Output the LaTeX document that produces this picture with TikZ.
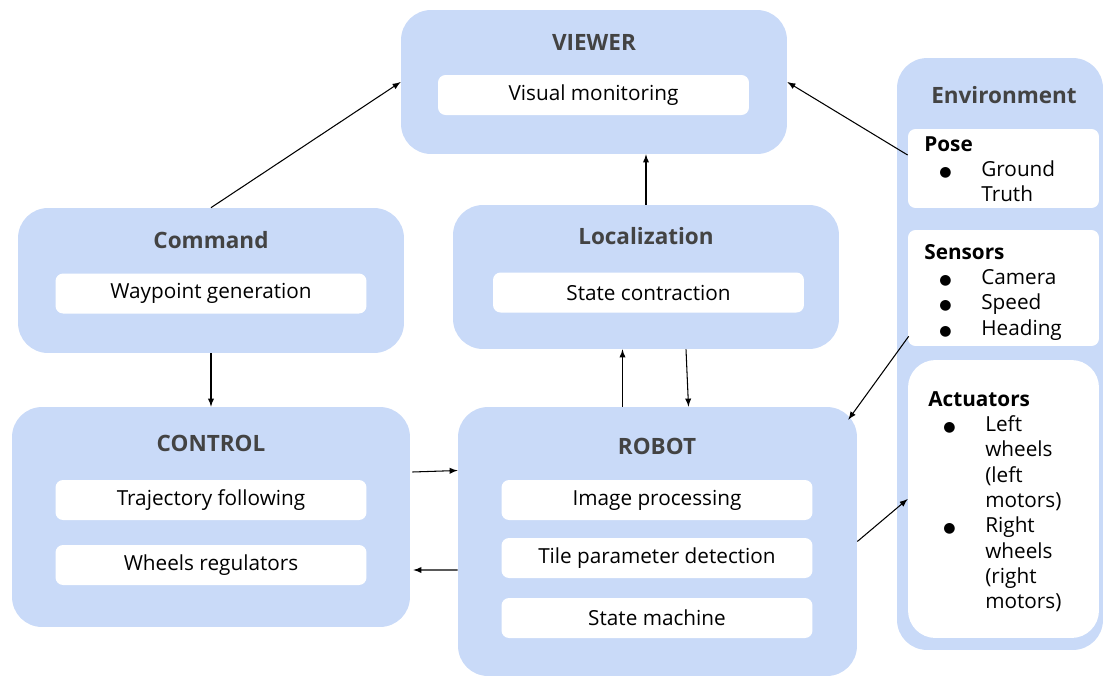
\documentclass[tikz,border=0pt]{standalone}
\usepackage{fontspec}
\setmainfont{Open Sans}
\newfontfamily\symfont{DejaVu Sans}
\usetikzlibrary{calc}
\definecolor{boxblue}{HTML}{C9DAF8}
\definecolor{titlegray}{HTML}{434343}
\tikzset{
  outer/.style={draw=none, fill=boxblue, rounded corners=0.6cm},
  inner/.style={draw=none, fill=white, rounded corners=0.15cm, minimum height=0.8cm, minimum width=6.22cm, font=\fontsize{11.8}{13}\selectfont},
  title/.style={text=titlegray, font=\fontsize{12.8}{15}\selectfont\bfseries},
  envtext/.style={align=left, inner sep=0pt, font=\fontsize{11.8}{14.4}\selectfont},
  arr/.style={->, >=latex, line width=0.6pt}
}
\newcommand{\bul}{\makebox[1.14cm][l]{\hspace{0.3cm}{\symfont\fontsize{8}{8}\selectfont ●}}}
\newcommand{\nobul}{\hspace*{1.14cm}}
\begin{document}
\begin{tikzpicture}[x=0.02cm, y=-0.02cm]
\useasboundingbox (0,0) rectangle (1103,677);

\node[outer, minimum width=7.72cm, minimum height=2.88cm] (viewer) at (594,82) {};
\node[title] (viewerT) at (594,42) {VIEWER};
\node[inner] (visual) at (593.5,95) {Visual monitoring};

\node[outer, minimum width=7.72cm, minimum height=2.9cm] (command) at (211,280.5) {};
\node[title] (commandT) at (211,240) {Command};
\node[inner] (waypoint) at (211,293.5) {Waypoint generation};

\node[outer, minimum width=7.72cm, minimum height=2.88cm] (loc) at (646,277) {};
\node[title] (locT) at (646,236) {Localization};
\node[inner] (contraction) at (648.5,292.5) {State contraction};

\node[outer, minimum width=7.96cm, minimum height=4.4cm] (control) at (211,517) {};
\node[title] (controlT) at (211,443) {CONTROL};
\node[inner] (trajectory) at (211,500) {Trajectory following};
\node[inner] (regulators) at (211,565) {Wheels regulators};

\node[outer, minimum width=7.98cm, minimum height=5.38cm] (robot) at (657.5,541.5) {};
\node[title] (robotT) at (657,446) {ROBOT};
\node[inner] (image) at (657,500) {Image processing};
\node[inner] (tile) at (657,558) {Tile parameter detection};
\node[inner] (machine) at (657,618) {State machine};

\node[outer, minimum width=4.12cm, minimum height=11.84cm] (env) at (1000,354) {};
\node[title] (envT) at (1004,95) {Environment};
\node[inner, minimum width=3.82cm, minimum height=1.58cm] (pose) at (1003.5,168.5) {};
\node[inner, minimum width=3.82cm, minimum height=2.32cm] (sensors) at (1003.5,288) {};
\node[inner, minimum width=3.82cm, minimum height=5.56cm, rounded corners=0.55cm] (act) at (1003.5,499) {};

\node[envtext, anchor=north west] (poseT) at (924,136) {\textbf{Pose}\\ \bul Ground\\ \nobul Truth};
\node[envtext, anchor=north west] (sensorsT) at (924,244) {\textbf{Sensors}\\ \bul Camera\\ \bul Speed\\ \bul Heading};
\node[envtext, anchor=north west] (actT) at (928,391) {\textbf{Actuators}\\ \bul Left\\ \nobul wheels\\ \nobul (left\\ \nobul motors)\\ \bul Right\\ \nobul wheels\\ \nobul (right\\ \nobul motors)};

\draw[arr] (command.north) -- (viewer.west);
\draw[arr] (pose.172) -- (viewer.east);
\draw[arr] (loc.north) -- (loc.north |- viewer.south);
\draw[arr] (command.south) -- (control.north);
\draw[arr] ($(robot.north)+(-35,0)$) coordinate (r1) -- (r1 |- loc.south);
\draw[arr] ($(loc.south)+(40,0)$) -- ($(robot.north)+(31,0)$);
\draw[arr] ($(control.east)+(2,-45)$) -- ($(robot.west)+(0,-71)$);
\draw[arr] ($(robot.west)+(0,28.5)$) -- ($(control.east)+(3,53)$);
\draw[arr] ($(sensors.south west)+(1,-10)$) -- ($(robot.north east)+(-9,13)$);
\draw[arr] (robot.east) -- (act.west);

\end{tikzpicture}
\end{document}
